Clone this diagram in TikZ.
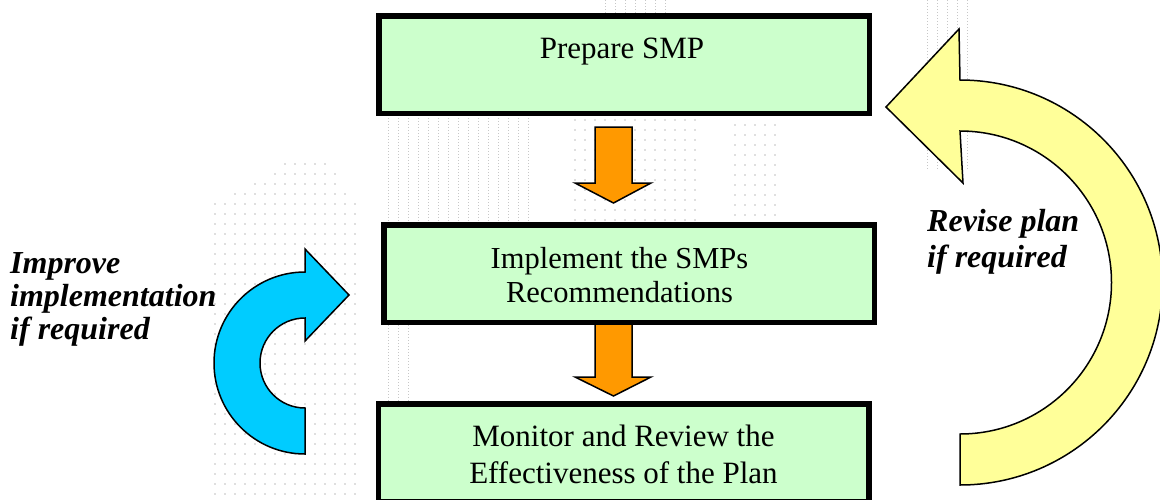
\documentclass[tikz,border=0pt]{standalone}
\usepackage{fontspec}
\setmainfont{Liberation Serif}
\usetikzlibrary{calc}
\definecolor{boxgreen}{HTML}{CCFFCC}
\definecolor{arrorange}{HTML}{FF9900}
\definecolor{arrblue}{HTML}{00CCFF}
\definecolor{arryellow}{HTML}{FFFF99}
\begin{document}
\begin{tikzpicture}[x=1pt,y=-1pt,
  stepbox/.style={draw=black, line width=5.5pt, fill=boxgreen, minimum width=490.5pt, minimum height=97.5pt, inner sep=0pt},
  boxtext/.style={font=\fontsize{31}{37}\selectfont, anchor=base, inner sep=0pt},
  lbl/.style={font=\fontsize{32}{34}\selectfont\bfseries\itshape, anchor=base west, inner sep=0pt},
  flowarrow/.style={draw=black, line width=1.5pt, fill=arrorange, line join=miter},
  curvearrow/.style={draw=black, line width=1.5pt, line join=miter},
  bgdot/.style={fill=black!25},
  bgline/.style={draw=black!22, line width=0.6pt, dash pattern=on 1pt off 2pt}]
\useasboundingbox (0,0) rectangle (1160,499);
\clip (0,0) rectangle (1160,499);
% faint background dots
\foreach \x in {215,225,...,355} \foreach \y in {204,214,...,494} \fill[bgdot] (\x,\y) circle[radius=0.8];
\foreach \x in {285,295,...,325} \fill[bgdot] (\x,164) circle[radius=0.8];
\foreach \x in {275,285,...,335} \fill[bgdot] (\x,174) circle[radius=0.8];
\foreach \x in {255,265,...,335} \fill[bgdot] (\x,184) circle[radius=0.8];
\foreach \x in {235,245,...,345} \fill[bgdot] (\x,194) circle[radius=0.8];
\foreach \x in {575,585,...,695} \foreach \y in {120,130,...,220} \fill[bgdot] (\x,\y) circle[radius=0.8];
\foreach \x in {735,745,...,775} \foreach \y in {125,135,...,215} \fill[bgdot] (\x,\y) circle[radius=0.8];
\foreach \x in {388,398,...,528} \draw[bgline] (\x,118) -- (\x,222);
\foreach \x in {388,398,408} \draw[bgline] (\x,205) -- (\x,401);
\foreach \x in {927,937,...,967} \draw[bgline] (\x,0) -- (\x,170);
\foreach \x in {605,615,...,665} \draw[bgline] (\x,0) -- (\x,13);
% orange flow arrows
\draw[flowarrow] (595,127) -- (632,127) -- (632,183) -- (651,183) -- (613.5,203) -- (575,183) -- (595,183) -- cycle;
\draw[flowarrow] (595,322) -- (632,322) -- (632,377) -- (651,377) -- (613.5,396) -- (575,377) -- (595,377) -- cycle;
% boxes
\node[stepbox] (box1) at (624,64.5) {};
\node[stepbox] (box2) at (629,273.5) {};
\node[stepbox] (box3) at (623.5,452.5) {};
\node[boxtext] (t1) at (622,58) {Prepare SMP};
\node[boxtext, font=\fontsize{30.5}{34}\selectfont] (t2) at (619.5,268) {\begin{tabular}[t]{@{}c@{}}Implement the SMPs\\Recommendations\end{tabular}};
\node[boxtext] (t3) at (623.5,446) {\begin{tabular}[t]{@{}c@{}}Monitor and Review the\\Effectiveness of the Plan\end{tabular}};
% blue curved arrow
\draw[curvearrow, fill=arrblue] (305,454) arc[start angle=90, end angle=270, radius=91] -- (305,249) -- (349,295) -- (305,341) -- (305,318) arc[start angle=270, end angle=90, radius=45] -- cycle;
% yellow curved arrow
\draw[curvearrow, fill=arryellow] (886,107) -- (959,29) -- (960,80) arc[start angle=270, end angle=450, radius=202.5] -- (960,434) arc[start angle=90, end angle=-90, radius=151.5] -- (963,183) -- cycle;
% labels
\node[lbl, font=\fontsize{32}{33}\selectfont\bfseries\itshape] (improve) at (10,273) {\begin{tabular}[t]{@{}l@{}}Improve\\implementation\\if required\end{tabular}};
\node[lbl, font=\fontsize{32}{36}\selectfont\bfseries\itshape] (revise) at (927,231) {\begin{tabular}[t]{@{}l@{}}Revise plan\\if required\end{tabular}};
\end{tikzpicture}
\end{document}
